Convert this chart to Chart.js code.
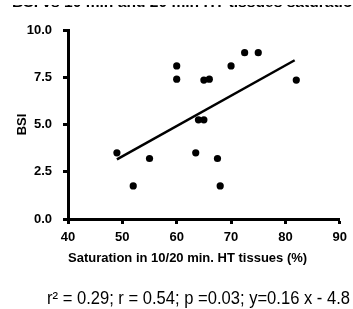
<!DOCTYPE html>
<html>
<head>
<meta charset="utf-8">
<script src="https://cdn.jsdelivr.net/npm/chart.js@4.4.0/dist/chart.umd.min.js"></script>
<style>
  html, body { margin: 0; padding: 0; background: #fff; }
  #wrap { width: 353px; height: 309px; }
</style>
</head>
<body>
<div id="wrap"><canvas id="myChart" width="353" height="309"></canvas></div>
<script>
// saturation (%) vs BSI
var satX = [49, 52, 55, 60, 60, 63.5, 64, 65, 65, 66, 67.5, 68, 70, 72.5, 75, 82]
var bsiY = [3.5, 1.75, 3.2, 8.1, 7.4, 3.5, 5.25, 5.25, 7.35, 7.4, 3.2, 1.75, 8.1, 8.8, 8.8, 7.35]
// regression line ends
var fitX = [49, 81.7]
var fitY = [3.15, 8.4]
var xTicks = [40, 50, 60, 70, 80, 90]
var yTicks = ['0.0', '2.5', '5.0', '7.5', '10.0']
var xTitle = 'Saturation in 10/20 min. HT tissues (%)'
var yTitle = 'BSI'
var topTitle = 'BSI vs 10 min and 20 min HT tissues saturation'
var statsText = 'r\u00b2 = 0.29; r = 0.54; p =0.03; y=0.16 x - 4.8'

var pts = satX.map(function (x, i) { return { x: x, y: bsiY[i] } })
var line = fitX.map(function (x, i) { return { x: x, y: fitY[i] } })

var fontFam = 'Arial, "Liberation Sans", sans-serif'

// texte en haut (coupé) et stats en bas
var extraText = {
    id: 'extraText',
    afterDraw: function (chart) {
        var ctx = chart.ctx
        ctx.save()
        ctx.fillStyle = '#000'
        ctx.font = 'bold 14px ' + fontFam
        ctx.textBaseline = 'alphabetic'
        var tw = ctx.measureText(topTitle).width
        ctx.translate(12, 0)
        ctx.scale(350 / tw, 1)
        ctx.fillText(topTitle, 0, 7)
        ctx.restore()
        // on cache le haut du titre, comme sur l'image
        ctx.save()
        ctx.fillStyle = '#fff'
        ctx.fillRect(0, 0, 353, 5)
        ctx.restore()

        ctx.save()
        ctx.fillStyle = '#000'
        ctx.font = '18px ' + fontFam
        ctx.textBaseline = 'alphabetic'
        var w = ctx.measureText(statsText).width
        ctx.translate(47, 304)
        ctx.scale(303 / w, 1)
        ctx.fillText(statsText, 0, 0)
        ctx.restore()
    }
}

var ctx = document.getElementById('myChart').getContext('2d')
var chart = new Chart(ctx, {
    type: 'scatter',
    data: {
        datasets: [{
            data: pts,
            backgroundColor: '#000',
            borderWidth: 0,
            pointRadius: 3.6,
            pointHoverRadius: 3.6
        }, {
            type: 'line',
            data: line,
            borderColor: '#000',
            borderWidth: 2.5,
            pointRadius: 0,
            fill: false
        }]
    },
    options: {
        responsive: false,
        animation: false,
        events: [],
        layout: { padding: { left: 0, top: 30, right: 10, bottom: 43 } },
        plugins: { legend: { display: false }, tooltip: { enabled: false } },
        scales: {
            x: {
                type: 'linear',
                min: 40, max: 90,
                afterBuildTicks: function (s) { s.ticks = xTicks.map(function (v) { return { value: v } }) },
                ticks: {
                    color: '#000',
                    padding: 6,
                    maxRotation: 0,
                    font: { family: fontFam, size: 13, weight: 'bold' },
                    callback: function (v) { return String(v) }
                },
                grid: { drawOnChartArea: false, tickLength: 5, tickWidth: 3, tickColor: '#000' },
                border: { color: '#000', width: 3 },
                title: {
                    display: true, text: xTitle, color: '#000', padding: 0, align: 'start',
                    font: { family: fontFam, size: 13, weight: 'bold' }
                },
                afterFit: function (s) { s.height = 47 }
            },
            y: {
                min: 0, max: 10,
                afterBuildTicks: function (s) { s.ticks = yTicks.map(function (t) { return { value: parseFloat(t) } }) },
                ticks: {
                    color: '#000',
                    padding: 11,
                    font: { family: fontFam, size: 13, weight: 'bold' },
                    callback: function (v) { return yTicks[Math.round(v / 2.5)] }
                },
                grid: { drawOnChartArea: false, tickLength: 5, tickWidth: 3, tickColor: '#000' },
                border: { color: '#000', width: 3 },
                title: {
                    display: true, text: yTitle, color: '#000', padding: { top: 15, bottom: 0 },
                    font: { family: fontFam, size: 13, weight: 'bold' }
                },
                afterFit: function (s) { s.width = 68 }
            }
        }
    },
    plugins: [extraText]
})
</script>
</body>
</html>
